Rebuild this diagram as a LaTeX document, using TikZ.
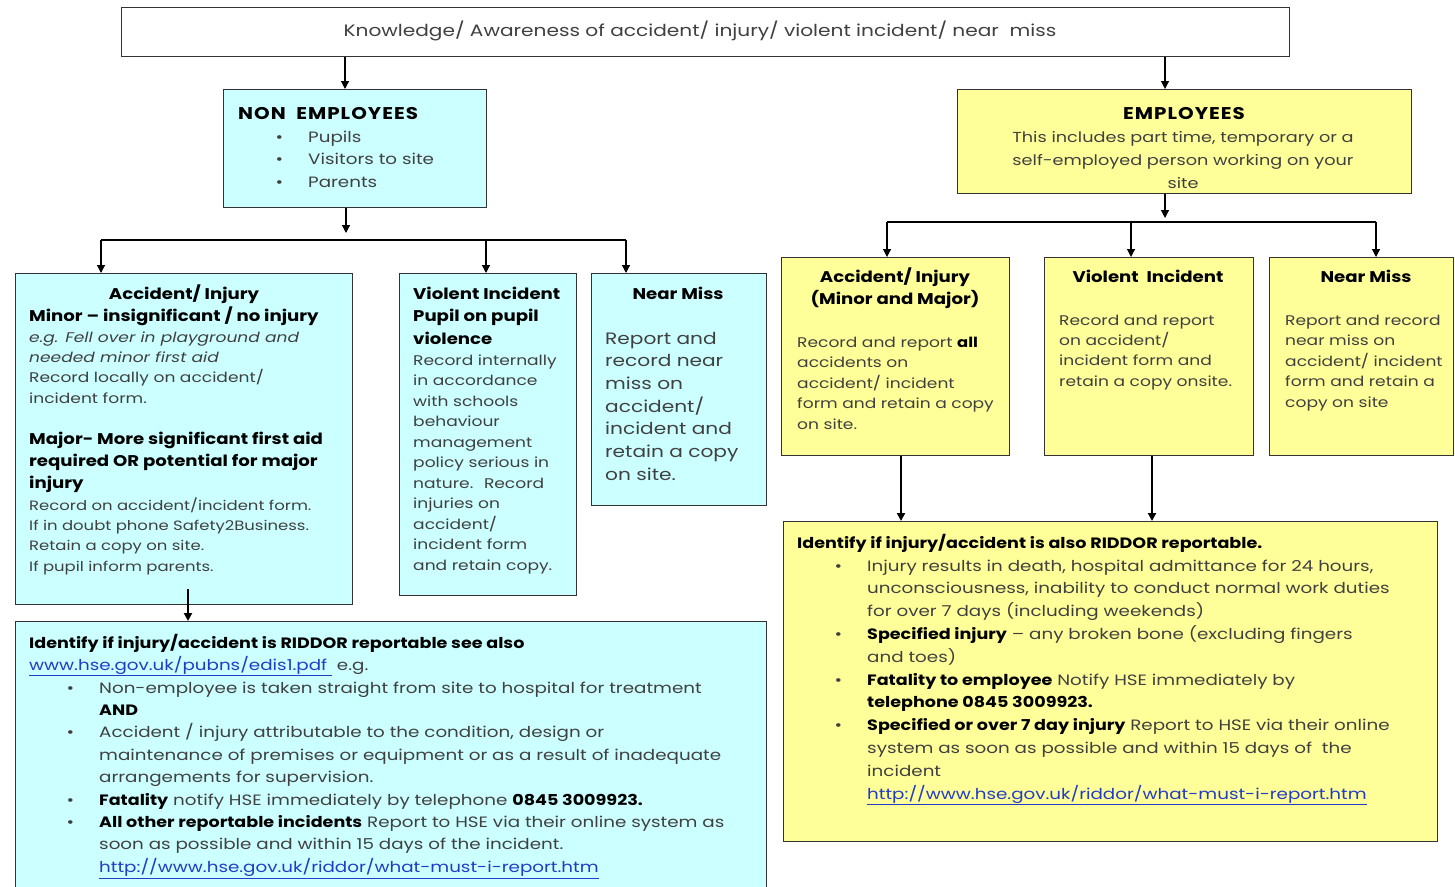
\documentclass[tikz,border=0pt]{standalone}
\usepackage{fontspec}
\setmainfont{Poppins}[FakeStretch=1.22, BoldFeatures={FakeStretch=1.17}]
\usetikzlibrary{arrows.meta}
\definecolor{cy}{HTML}{CCFFFF}
\definecolor{ye}{HTML}{FFFF99}
\definecolor{lnk}{RGB}{35,60,200}
\definecolor{tx}{gray}{0.25}
\newcommand\bu{\makebox[0pt][r]{\textbullet\hspace{25pt}}}
\newcommand\B[1]{{\bfseries\color{black}#1}}
\newcommand\lk[1]{{\color{lnk}\underline{#1}}}
\newcommand\fs[2]{\fontsize{#1}{#2}\selectfont}
\begin{document}
\begin{tikzpicture}[x=1pt,y=-1pt,
 box/.style={draw=black!80, line width=1.3pt, anchor=north west, inner sep=0pt},
 cbox/.style={box, fill=cy},
 ybox/.style={box, fill=ye},
 tl/.style={anchor=north west, inner sep=0pt, align=left, text=tx},
 tc/.style={anchor=north, inner sep=0pt, align=center, text=tx},
 arr/.style={draw=black, line width=1.2pt, -{Triangle[length=8pt,width=8pt]}},
 ln/.style={draw=black, line width=1.2pt},
]
\useasboundingbox (0,0) rectangle (1455,886);
\clip (0,0) rectangle (1455,886);
\fill[white] (0,0) rectangle (1455,886);
% boxes
\node[box, fill=white, line width=1pt, minimum width=1168pt, minimum height=49pt] (top) at (121,7) {};
\node[cbox, minimum width=263pt, minimum height=118pt] (non) at (223,89) {};
\node[ybox, minimum width=454pt, minimum height=104pt] (emp) at (957,89) {};
\node[cbox, minimum width=337pt, minimum height=331pt] (acc) at (15,273) {};
\node[cbox, minimum width=177pt, minimum height=322pt] (vio) at (399,273) {};
\node[cbox, minimum width=175pt, minimum height=232pt] (nm) at (591,273) {};
\node[ybox, minimum width=228pt, minimum height=198pt] (eacc) at (781,257) {};
\node[ybox, minimum width=209pt, minimum height=198pt] (evio) at (1044,257) {};
\node[ybox, minimum width=184pt, minimum height=198pt] (enm) at (1269,257) {};
\node[cbox, minimum width=751pt, minimum height=300pt] (rl) at (15,621) {};
\node[ybox, minimum width=654pt, minimum height=320pt] (rr) at (783,521) {};
% connectors
\coordinate (jL) at (346,240); \coordinate (jL1) at (101,240); \coordinate (jL2) at (626,240);
\coordinate (jM) at (486,240);
\coordinate (jR) at (1165,222); \coordinate (jR1) at (887,222); \coordinate (jR2) at (1376,222);
\coordinate (jRM) at (1131,222);
\draw[arr] (top.south -| 345,0) -- (non.north -| 345,0);
\draw[arr] (top.south -| 1165,0) -- (emp.north -| 1165,0);
\draw[arr, shorten >=7pt] (non.south -| jL) -- (jL);
\draw[ln] (jL1) -- (jL2);
\draw[arr] (jL1) -- (acc.north -| jL1);
\draw[arr] (jM) -- (vio.north -| jM);
\draw[arr] (jL2) -- (nm.north -| jL2);
\draw[arr, shorten >=4pt] (emp.south -| jR) -- (jR);
\draw[ln] (jR1) -- (jR2);
\draw[arr] (jR1) -- (eacc.north -| jR1);
\draw[arr] (jRM) -- (evio.north -| jRM);
\draw[arr] (jR2) -- (enm.north -| jR2);
\draw[arr, line width=2.2pt] ([yshift=16pt]acc.south -| 188,0) -- (rl.north -| 188,0);
\draw[arr, line width=2.2pt] (eacc.south -| 901,0) -- (rr.north -| 901,0);
\draw[arr, line width=2.6pt] (evio.south -| 1152,0) -- (rr.north -| 1152,0);
% texts
\node[text=tx, inner sep=0pt, font=\fs{16.5}{20}] (t0) at (700,31) {Knowledge/ Awareness of accident/ injury/ violent incident/ near~~miss};
\node[tl, font=\fs{17}{20}\addfontfeature{LetterSpace=6}] (t1) at (238,105) {\strut\B{NON~ EMPLOYEES}};
\node[tl, font=\fs{15}{22.5}] (t2) at (308,126.25) {\strut\bu Pupils\\\bu Visitors to site\\\bu Parents};
\node[tc, font=\fs{17}{20}\addfontfeature{LetterSpace=6}] (t3) at (1184,105) {\strut\B{EMPLOYEES}};
\node[tc, font=\fs{14.5}{23}] (t4) at (1183,125.9) {\strut This includes part time, temporary or a\\self-employed person working on your\\site};
\node[tc, font=\fs{15.5}{22}] (t5) at (184,283.6) {\strut\B{Accident/ Injury}};
\node[tl, font=\fs{15.5}{22}] (t6) at (29,305.6) {\strut\B{Minor – insignificant / no injury}};
\node[tl, font=\fs{14}{20.4}] (t7) at (29,327.7) {\strut\textit{e.g. Fell over in playground and}\\\textit{needed minor first aid}\\Record locally on accident/\\incident form.};
\node[tl, font=\fs{15.5}{22}] (t8) at (29,428.6) {\strut\B{Major- More significant first aid}\\\B{required OR potential for major}\\\B{injury}};
\node[tl, font=\fs{13.5}{20.3}] (t9) at (29,495.8) {\strut Record on accident/incident form.\\If in doubt phone Safety2Business.\\Retain a copy on site.\\If pupil inform parents.};
\node[tl, font=\fs{15.5}{22.5}] (t10) at (413,283.25) {\strut\B{Violent Incident}\\\B{Pupil on pupil}\\\B{violence}};
\node[tl, font=\fs{14}{20.5}] (t11) at (413,350.65) {\strut Record internally\\in accordance\\with schools\\behaviour\\management\\policy serious in\\nature.~ Record\\injuries on\\accident/\\incident form\\and retain copy.};
\node[tc, font=\fs{15.5}{22}] (t12) at (678,283.6) {\strut\B{Near Miss}};
\node[tl, font=\fs{16.5}{22.67}] (t13) at (605,328.1) {\strut Report and\\record near\\miss on\\accident/\\incident and\\retain a copy\\on site.};
\node[tc, font=\fs{15.5}{22}] (t14) at (895,266.6) {\strut\B{Accident/ Injury}\\\B{(Minor and Major)}};
\node[tl, font=\fs{14}{20.5}] (t15) at (797,332.65) {\strut Record and report \B{all}\\accidents on\\accident/ incident\\form and retain a copy\\on site.};
\node[tc, font=\fs{15.5}{22}] (t16) at (1148,266.6) {\strut\B{Violent~ Incident}};
\node[tl, font=\fs{14}{20.4}] (t17) at (1059,310.7) {\strut Record and report\\on accident/\\incident form and\\retain a copy onsite.};
\node[tc, font=\fs{15.5}{22}] (t18) at (1366,266.6) {\strut\B{Near Miss}};
\node[tl, font=\fs{14}{20.5}] (t19) at (1285,310.65) {\strut Report and record\\near miss on\\accident/ incident\\form and retain a\\copy on site};
\node[tl, font=\fs{15}{22}] (t20) at (29,632.6) {\strut\B{Identify if injury/accident is RIDDOR reportable see also}\\\lk{www.hse.gov.uk/pubns/edis1.pdf~} e.g.};
\node[tl, font=\fs{15}{22.4}] (t21) at (99,677.3) {\strut\bu Non-employee is taken straight from site to hospital for treatment\\\B{AND}\\\bu Accident / injury attributable to the condition, design or\\maintenance of premises or equipment or as a result of inadequate\\arrangements for supervision.\\\bu\B{Fatality} notify HSE immediately by telephone \B{0845 3009923.}\\\bu\B{All other reportable incidents} Report to HSE via their online system as\\soon as possible and within 15 days of the incident.\\\lk{http://www.hse.gov.uk/riddor/what-must-i-report.htm}};
\node[tl, font=\fs{15}{22}] (t22) at (797,532.6) {\strut\B{Identify if injury/accident is also RIDDOR reportable.}};
\node[tl, font=\fs{15}{22.8}] (t23) at (867,555) {\strut\bu Injury results in death, hospital admittance for 24 hours,\\unconsciousness, inability to conduct normal work duties\\for over 7 days (including weekends)\\\bu\B{Specified injury} – any broken bone (excluding fingers\\and toes)\\\bu\B{Fatality to employee} Notify HSE immediately by\\\B{telephone 0845 3009923.}\\\bu\B{Specified or over 7 day injury} Report to HSE via their online\\system as soon as possible and within 15 days of~ the\\incident\\\lk{http://www.hse.gov.uk/riddor/what-must-i-report.htm}};
\end{tikzpicture}
\end{document}
